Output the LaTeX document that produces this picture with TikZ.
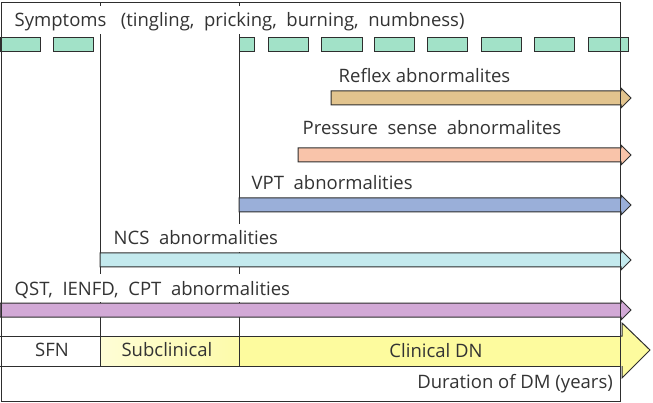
\documentclass[tikz,border=0pt]{standalone}
\usepackage{fontspec}
\setmainfont{Open Sans}
\definecolor{ln}{HTML}{2E2E2E}
\definecolor{txt}{HTML}{333333}
\definecolor{mint}{HTML}{A2E2C8}
\definecolor{tan}{HTML}{E2C48E}
\definecolor{salmon}{HTML}{F9C4AA}
\definecolor{vptblue}{HTML}{9AAFD9}
\definecolor{ncscyan}{HTML}{C4EAEE}
\definecolor{lilac}{HTML}{D2A9D6}
\definecolor{yelA}{HTML}{FEFDD6}
\definecolor{yelB}{HTML}{FDFBAA}
\definecolor{yelC}{HTML}{FDFB9E}
\newcommand{\barrow}[3]{%
  \filldraw[fill=#3, draw=ln, line width=1pt, line join=miter]
    (#1,#2) -- (621,#2) -- (621,#2-3) -- (631,#2+7) -- (621,#2+17) -- (621,#2+14) -- (#1,#2+14) -- cycle;}
\begin{document}
\begin{tikzpicture}[x=1pt,y=-1pt,
  lbl/.style={anchor=base west, fill=white, inner xsep=1.5pt, inner ysep=1pt, text height=20pt, text depth=6pt, text=txt, font=\fontsize{18.5}{20}\selectfont},
  rowlbl/.style={anchor=base, inner sep=1pt, text=txt, font=\fontsize{18.5}{20}\selectfont},
  frameline/.style={draw=ln, line width=1pt},
  dashbox/.style={fill=mint, draw=ln, line width=1pt}]
\useasboundingbox (0,0) rectangle (653,403);
% vertical lines
\draw[frameline] (100,3) -- (100,366);
\draw[frameline] (239,3) -- (239,366);
% green dashes
\foreach \a/\b in {0/40,53/93,239/254,268/308,321/362,374/414,427/467,481/521,534/574,588/628}
  \filldraw[dashbox] (\a,38) rectangle (\b,52);
% bars
\barrow{331}{91}{tan}
\barrow{298}{148}{salmon}
\barrow{239}{198}{vptblue}
\barrow{100}{253}{ncscyan}
\barrow{0}{303}{lilac}
% clinical arrow
\fill[left color=yelA, right color=yelB] (100,336) rectangle (239,366);
\fill[yelC] (239,336) -- (622,336) -- (622,323) -- (650,350) -- (622,378) -- (622,366) -- (239,366) -- cycle;
\draw[draw=ln, line width=1pt, line join=miter] (620,336) -- (622,336) -- (622,323) -- (650,350) -- (622,378) -- (622,366);
\draw[frameline] (0,336) -- (620,336);
\draw[frameline] (0,366) -- (620,366);
\draw[frameline] (100,336) -- (100,366);
\draw[frameline] (239,336) -- (239,366);
% labels
\node[lbl] (sym) at (13,27) {Symptoms\ \ \ (tingling,\ \ pricking,\ \ burning,\ \ numbness)};
\node[lbl] (refl) at (337,83) {Reflex abnormalites};
\node[lbl] (pres) at (301,135) {Pressure\ \ sense\ \ abnormalites};
\node[lbl] (vpt) at (250,190) {VPT\ \ abnormalities};
\node[lbl] (ncs) at (112,245) {NCS\ \ abnormalities};
\node[lbl] (qst) at (13,295) {QST,\ \ IENFD,\ \ CPT\ \ abnormalities};
\node[rowlbl] (sfn) at (52,356) {SFN};
\node[rowlbl] (sub) at (167,356) {Subclinical};
\node[rowlbl] (cdn) at (436,357) {Clinical DN};
\node[rowlbl, anchor=base east] (dur) at (614,388) {Duration of DM (years)};
% frame
\draw[frameline] (1,3) rectangle (620,401);
\end{tikzpicture}
\end{document}
